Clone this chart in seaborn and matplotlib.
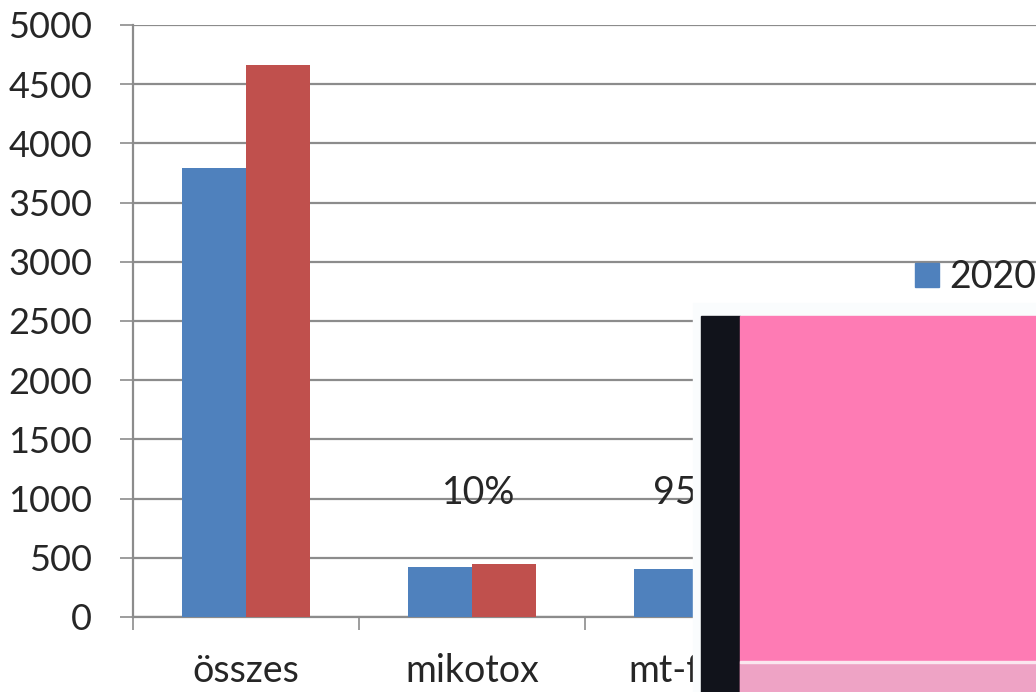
import pandas as pd
import seaborn as sns
import matplotlib.pyplot as plt
from matplotlib.patches import Rectangle
from matplotlib.lines import Line2D


# adatok (a kép alapján becsülve)
kategoriak = ["összes", "mikotox", "mt-fertő"]
ertek_2020 = [3790, 420, 405]
ertek_2021 = [4660, 445, 380]
evek = ["2020", "2021"]
szazalekok = ["", "10%", "95%"]
cimke_eltolas = [0, 0.03, -0.035]

kek = "#4F81BD"
piros = "#C0504D"
racs = "#8C8C8C"

df = pd.DataFrame({
    "kategoria": kategoriak * 2,
    "ev": [evek[0]] * len(kategoriak) + [evek[1]] * len(kategoriak),
    "ertek": ertek_2020 + ertek_2021,
})

sns.set_style("white")
plt.rcParams["font.family"] = ["Lato", "DejaVu Sans"]

fig = plt.figure(figsize=(10.36, 6.92), dpi=100)
ax = fig.add_axes([133 / 1036, 1 - 617 / 692, 904 / 1036, 592 / 692])

sns.barplot(data=df, x="kategoria", y="ertek", hue="ev", palette=[kek, piros],
            width=0.57, saturation=1, linewidth=0, ax=ax, legend=False, zorder=3)

ax.set_xlim(-0.5, 3.5)
ax.set_ylim(0, 5000)
ax.set_yticks(range(0, 5001, 500))
ax.yaxis.grid(True, color=racs, linewidth=1.6, zorder=0)
ax.set_xlabel("")
ax.set_ylabel("")

for s in ["top", "right"]:
    ax.spines[s].set_visible(False)
for s in ["left", "bottom"]:
    ax.spines[s].set_color(racs)
    ax.spines[s].set_linewidth(1.6)

ax.tick_params(axis="y", which="major", length=9.5, width=1.2, color=racs,
               pad=20, labelsize=26, direction="out", left=True)
ax.set_xticks(range(len(kategoriak)))
ax.set_xticklabels(kategoriak)
ax.tick_params(axis="x", which="major", length=0, pad=26, labelsize=27)
ax.set_xticks([-0.5, 0.5, 1.5, 2.5, 3.5], minor=True)
ax.tick_params(axis="x", which="minor", length=9.5, width=1.2, color=racs,
               direction="out", bottom=True)

for i, t in enumerate(szazalekok):
    if t:
        ax.text(i + cimke_eltolas[i], 1050, t, ha="center", va="center",
                fontsize=27, zorder=4)

# jelmagyarázat
handles = [Line2D([0], [0], marker="s", color="none", markerfacecolor=c,
                  markeredgecolor=c, markersize=17)
           for c in [kek, piros]]
fig.legend(handles, evek, loc="upper left", bbox_to_anchor=(912 / 1036, 1 - 259 / 692),
           frameon=False, fontsize=27, handlelength=0.8, handletextpad=0.2,
           labelspacing=0.8, borderaxespad=0, borderpad=0)

# rátakaró kép
fig.add_artist(Rectangle((693 / 1036, 0), 343 / 1036, 389 / 692,
                         transform=fig.transFigure, color="#FAFCFD", zorder=9))
fig.add_artist(Rectangle((701 / 1036, 0), 39 / 1036, 376 / 692,
                         transform=fig.transFigure, color="#11131B", zorder=10))
fig.add_artist(Rectangle((740 / 1036, 0), 296 / 1036, 376 / 692,
                         transform=fig.transFigure, color="#FE7BB4", zorder=10))
fig.add_artist(Rectangle((740 / 1036, 0), 296 / 1036, 29 / 692,
                         transform=fig.transFigure, color="#EEA3C5", zorder=11))
fig.add_artist(Rectangle((740 / 1036, 29 / 692), 296 / 1036, 2 / 692,
                         transform=fig.transFigure, color="#FBE6EF", zorder=11))

fig.savefig("out.png", dpi=100)
plt.close(fig)
